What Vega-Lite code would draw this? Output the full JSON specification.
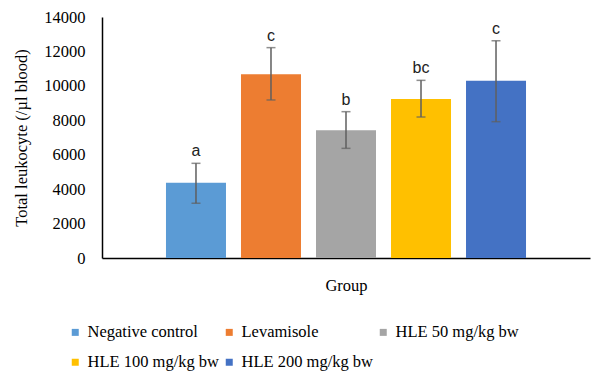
{
  "$schema": "https://vega.github.io/schema/vega-lite/v6.json",
  "width": 488,
  "height": 241,
  "autosize": {"type": "none"},
  "padding": {"left": 102, "top": 17, "right": 8, "bottom": 114},
  "background": "white",
  "config": {
    "view": {"stroke": null},
    "axis": {"labelOverlap": false, "labelBound": false, "labelFlush": false}
  },
  "data": {
    "values": [
      {"group": "Negative control", "mean": 4370, "lo": 3180, "hi": 5500, "sig": "a"},
      {"group": "Levamisole", "mean": 10670, "lo": 9180, "hi": 12220, "sig": "c"},
      {"group": "HLE 50 mg/kg bw", "mean": 7420, "lo": 6370, "hi": 8500, "sig": "b"},
      {"group": "HLE 100 mg/kg bw", "mean": 9240, "lo": 8190, "hi": 10320, "sig": "bc"},
      {"group": "HLE 200 mg/kg bw", "mean": 10300, "lo": 7920, "hi": 12620, "sig": "c"}
    ]
  },
  "encoding": {
    "x": {
      "field": "group", "type": "nominal",
      "sort": ["Negative control", "Levamisole", "HLE 50 mg/kg bw", "HLE 100 mg/kg bw", "HLE 200 mg/kg bw"],
      "scale": {"paddingInner": 0.2, "paddingOuter": 0.853},
      "axis": {
        "title": "Group", "labels": false, "ticks": false,
        "domainColor": "#000000", "domainWidth": 1.5,
        "titleFont": "Liberation Serif", "titleFontSize": 16.5, "titleFontWeight": "normal",
        "titleColor": "#000000", "titlePadding": 19
      }
    }
  },
  "resolve": {"axis": {"y": "independent"}},
  "layer": [
    {
      "mark": {"type": "bar"},
      "encoding": {
        "y": {
          "field": "mean", "type": "quantitative",
          "scale": {"domain": [0, 14000]},
          "axis": {
            "title": "Total leukocyte (/µl blood)",
            "values": [0, 2000, 4000, 6000, 8000, 10000, 12000, 14000],
            "format": "d", "labelOverlap": false,
            "grid": false, "ticks": false,
            "domainColor": "#000000", "domainWidth": 1.5,
            "labelFont": "Liberation Serif", "labelFontSize": 16.5, "labelColor": "#000000",
            "labelPadding": 17,
            "titleFont": "Liberation Serif", "titleFontSize": 16.5, "titleFontWeight": "normal",
            "titleColor": "#000000", "titlePadding": 14
          }
        },
        "color": {
          "field": "group", "type": "nominal",
          "scale": {
            "domain": ["Negative control", "HLE 100 mg/kg bw", "Levamisole", "HLE 200 mg/kg bw", "HLE 50 mg/kg bw"],
            "range": ["#5B9BD5", "#FFC000", "#ED7D31", "#4472C4", "#A5A5A5"]
          },
          "legend": {
            "orient": "none", "legendX": -35, "legendY": 307,
            "title": null, "columns": 3, "gridAlign": "each",
            "columnPadding": 1, "rowPadding": 13,
            "symbolType": "square", "symbolSize": 49, "symbolStrokeWidth": 0,
            "labelFont": "Liberation Serif", "labelFontSize": 16.5, "labelColor": "#000000",
            "labelOffset": 4, "labelLimit": 300
          }
        }
      }
    },
    {
      "mark": {"type": "rule", "color": "#5f5f5f", "strokeWidth": 1.5},
      "encoding": {
        "y": {"field": "lo", "type": "quantitative", "axis": null},
        "y2": {"field": "hi"}
      }
    },
    {
      "mark": {"type": "tick", "color": "#5f5f5f", "thickness": 1.5, "size": 9, "orient": "horizontal"},
      "encoding": {"y": {"field": "lo", "type": "quantitative", "axis": null}}
    },
    {
      "mark": {"type": "tick", "color": "#5f5f5f", "thickness": 1.5, "size": 9, "orient": "horizontal"},
      "encoding": {"y": {"field": "hi", "type": "quantitative", "axis": null}}
    },
    {
      "mark": {"type": "text", "font": "Liberation Sans", "fontSize": 16, "baseline": "bottom", "dy": -4, "color": "#222222"},
      "encoding": {
        "y": {"field": "hi", "type": "quantitative", "axis": null},
        "text": {"field": "sig"}
      }
    }
  ]
}
